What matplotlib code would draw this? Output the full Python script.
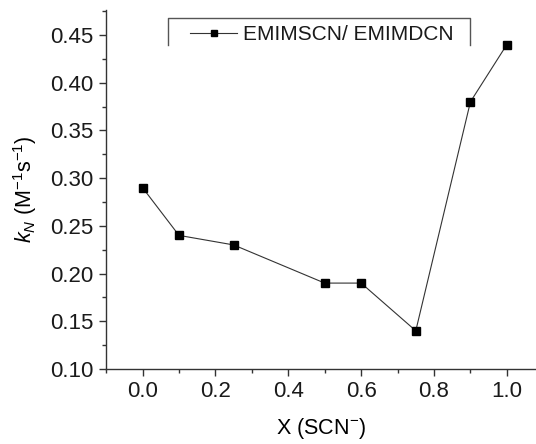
import matplotlib
matplotlib.use('Agg')
import matplotlib.pyplot as plt
from matplotlib.lines import Line2D
from matplotlib.ticker import MultipleLocator

plt.rcParams['font.family'] = 'Liberation Sans'
plt.rcParams['mathtext.fontset'] = 'custom'
plt.rcParams['mathtext.rm'] = 'Liberation Sans'
plt.rcParams['mathtext.it'] = 'Liberation Sans:italic'

# data
x_scn = [0.0, 0.1, 0.25, 0.5, 0.6, 0.75, 0.9, 1.0]
k_n = [0.29, 0.24, 0.23, 0.19, 0.19, 0.14, 0.38, 0.44]
series_label = 'EMIMSCN/ EMIMDCN'

fig = plt.figure(figsize=(5.36, 4.44), dpi=100)
ax = fig.add_axes([0.198, 0.169, 0.802, 0.808])

ax.plot(x_scn, k_n, color='#333333', lw=0.8, marker='s', ms=5.5,
        mfc='black', mec='black')

ax.set_xlim(-0.1, 1.08)
ax.set_ylim(0.1, 0.476)
ax.xaxis.set_major_locator(MultipleLocator(0.2))
ax.xaxis.set_minor_locator(MultipleLocator(0.1))
ax.yaxis.set_major_locator(MultipleLocator(0.05))
ax.yaxis.set_minor_locator(MultipleLocator(0.025))
ax.xaxis.set_major_formatter(matplotlib.ticker.FormatStrFormatter('%.1f'))
ax.yaxis.set_major_formatter(matplotlib.ticker.FormatStrFormatter('%.2f'))

for s in ['top', 'right']:
    ax.spines[s].set_visible(False)
for s in ['left', 'bottom']:
    ax.spines[s].set_color('#333333')
    ax.spines[s].set_linewidth(1.0)

ax.tick_params(which='major', direction='out', length=5, width=1,
               labelsize=16, colors='#333333', labelcolor='#1a1a1a', pad=4)
ax.tick_params(which='minor', direction='out', length=3, width=1, colors='#333333')

ax.set_xlabel('X (SCN$^{-}$)', fontsize=15.5, labelpad=10)
ax.set_ylabel('$k_N$ (M$^{-1}$s$^{-1}$)', fontsize=15.5, labelpad=8)

# open-bottom legend frame
W, H = 536, 444
def fx(px):
    return px / W
def fy(py):
    return 1 - py / H
frame = [(168, 45), (168, 18), (470, 18), (470, 45)]
fig.add_artist(Line2D([fx(p[0]) for p in frame], [fy(p[1]) for p in frame],
                      color='#555555', lw=1.0, transform=fig.transFigure))
fig.add_artist(Line2D([fx(190), fx(237)], [fy(33), fy(33)], color='#333333', lw=0.8,
                      transform=fig.transFigure))
fig.add_artist(Line2D([fx(214)], [fy(33)], color='black', marker='s', ms=5,
                      transform=fig.transFigure))
fig.text(fx(243), fy(34), series_label, fontsize=15, va='center', ha='left',
         color='#1a1a1a')

fig.savefig('out.png', dpi=100)
